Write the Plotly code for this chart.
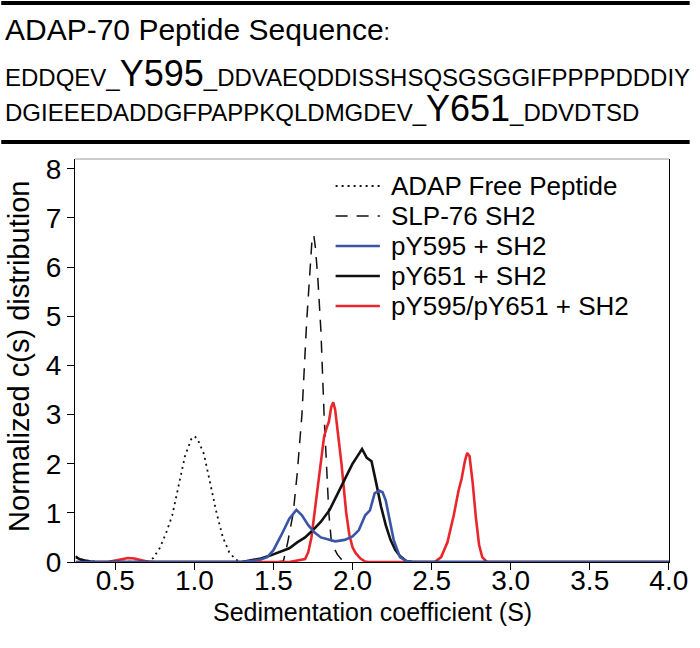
import plotly.graph_objects as go

# ---------------- data ----------------
free_x = [0.25, 0.27, 0.30, 0.33, 0.36, 0.40, 0.70, 0.74, 0.78, 0.82, 0.86, 0.90, 0.94,
          0.98, 1.00, 1.02, 1.06, 1.10, 1.14, 1.18, 1.22, 1.26, 1.30, 1.40]
free_y = [0.12, 0.07, 0.04, 0.03, 0.01, 0.00, 0.01, 0.08, 0.28, 0.58, 0.95, 1.55, 2.15,
          2.50, 2.56, 2.50, 2.20, 1.60, 1.00, 0.50, 0.20, 0.05, 0.00, 0.00]

slp_x = [1.52, 1.563, 1.59, 1.625, 1.65, 1.68, 1.71, 1.73, 1.745, 1.755, 1.765, 1.78,
         1.80, 1.82, 1.85, 1.865, 1.88, 1.905, 1.93, 1.95]
slp_y = [0.00, 0.02, 0.40, 1.00, 1.80, 3.00, 4.90, 6.00, 6.62, 6.65, 6.40, 5.80,
         4.70, 3.00, 1.00, 0.45, 0.30, 0.15, 0.05, 0.00]

py595_x = [0.25, 1.30, 1.38, 1.42, 1.46, 1.50, 1.55, 1.60, 1.645, 1.68, 1.72, 1.76, 1.80,
           1.85, 1.89, 1.95, 2.00, 2.04, 2.08, 2.11, 2.14, 2.17, 2.19, 2.21, 2.23, 2.26,
           2.30, 2.34, 2.38, 4.00]
py595_y = [0.00, 0.00, 0.03, 0.05, 0.10, 0.24, 0.55, 0.88, 1.06, 0.95, 0.75, 0.60, 0.50,
           0.45, 0.42, 0.45, 0.52, 0.65, 0.95, 1.05, 1.40, 1.45, 1.42, 1.25, 0.90, 0.45,
           0.10, 0.02, 0.00, 0.00]

py651_x = [0.25, 0.28, 0.32, 0.36, 1.30, 1.36, 1.42, 1.47, 1.53, 1.57, 1.60, 1.65, 1.70,
           1.75, 1.80, 1.855, 1.90, 1.96, 2.00, 2.03, 2.06, 2.09, 2.12, 2.15, 2.18, 2.21,
           2.24, 2.27, 2.30, 2.34, 2.38, 4.00]
py651_y = [0.10, 0.05, 0.02, 0.00, 0.00, 0.03, 0.07, 0.12, 0.20, 0.25, 0.28, 0.40, 0.50,
           0.65, 0.82, 1.06, 1.35, 1.74, 2.00, 2.15, 2.30, 2.12, 2.05, 1.60, 1.13, 0.75,
           0.45, 0.25, 0.12, 0.02, 0.00, 0.00]

both_x = [0.25, 0.45, 0.50, 0.55, 0.58, 0.62, 0.66, 0.70, 0.75, 1.60, 1.70, 1.72, 1.74,
          1.76, 1.78, 1.80, 1.82, 1.835, 1.85, 1.865, 1.878, 1.89, 1.90, 1.915, 1.93,
          1.945, 1.96, 1.98, 2.00, 2.02, 2.05, 2.08, 2.10, 2.52, 2.56, 2.60, 2.64, 2.67,
          2.69, 2.71, 2.725, 2.74, 2.76, 2.78, 2.80, 2.82, 2.85, 4.00]
both_y = [0.00, 0.00, 0.03, 0.07, 0.08, 0.07, 0.04, 0.01, 0.00, 0.00, 0.06, 0.20, 0.50,
          1.00, 1.50, 2.00, 2.55, 2.72, 2.85, 3.15, 3.25, 3.10, 2.85, 2.45, 2.00,
          1.50, 1.00, 0.55, 0.30, 0.18, 0.07, 0.01, 0.00, 0.00, 0.10, 0.40, 0.95, 1.45,
          1.70, 2.05, 2.22, 2.15, 1.60, 0.90, 0.35, 0.10, 0.00, 0.00]

series_names = ["ADAP Free Peptide", "SLP-76 SH2", "pY595 + SH2", "pY651 + SH2",
                "pY595/pY651 + SH2"]
x_ticks = [0.5, 1.0, 1.5, 2.0, 2.5, 3.0, 3.5, 4.0]
y_ticks = [0, 1, 2, 3, 4, 5, 6, 7, 8]

# ---------------- layout geometry ----------------
W, H = 700, 648
L, R, T, B = 75, 21, 159, 86
PW, PH = W - L - R, H - T - B
FONT = "Liberation Sans, Arial, Helvetica, sans-serif"

def px_x(px):
    return (px - L) / PW

def px_y(py):
    return (H - B - py) / PH

BLUE = "#3b55a5"
RED = "#e8262b"
BLACK = "#111111"

styles = [
    dict(color=BLACK, width=1.8, dash="2px,4px"),
    dict(color=BLACK, width=1.5, dash="12px,9px"),
    dict(color=BLUE, width=2.6, dash="solid"),
    dict(color=BLACK, width=2.6, dash="solid"),
    dict(color=RED, width=2.6, dash="solid"),
]

data = [(free_x, free_y), (slp_x, slp_y), (py595_x, py595_y), (py651_x, py651_y),
        (both_x, both_y)]
order = [0, 1, 4, 3, 2]

fig = go.Figure()
for i in order:
    xs, ys = data[i]
    fig.add_trace(go.Scatter(x=xs, y=ys, mode="lines", name=series_names[i],
                             line=styles[i], showlegend=False))

shapes = []
annotations = []

# legend drawn in the upper right of the plot
leg_y = [186, 216, 246, 276, 306]
for i, yy in enumerate(leg_y):
    shapes.append(dict(type="line", xref="paper", yref="paper",
                       x0=px_x(340), x1=px_x(385), y0=px_y(yy), y1=px_y(yy),
                       line=styles[i]))
    annotations.append(dict(xref="paper", yref="paper", x=px_x(395), y=px_y(yy),
                            xanchor="left", yanchor="middle", showarrow=False,
                            borderpad=0,
                            text=series_names[i], font=dict(size=26, color="black")))

# separators and top border
shapes.append(dict(type="line", xref="paper", yref="paper", x0=px_x(0), x1=px_x(700),
                   y0=px_y(3), y1=px_y(3), line=dict(color="black", width=4)))
shapes.append(dict(type="line", xref="paper", yref="paper", x0=px_x(0), x1=px_x(700),
                   y0=px_y(142), y1=px_y(142), line=dict(color="black", width=4)))
shapes.append(dict(type="line", xref="paper", yref="paper", x0=0, x1=1, y0=1, y1=1,
                   line=dict(color="#9a9a9a", width=1.2)))

# header text
annotations.append(dict(xref="paper", yref="paper", x=px_x(2), y=px_y(29),
                        xanchor="left", yanchor="middle", showarrow=False,
                        text="ADAP-70 Peptide Sequence<span style='font-size:23px'>:</span>",
                        font=dict(size=30, color="black")))
annotations.append(dict(xref="paper", yref="paper", x=px_x(2), y=px_y(74),
                        xanchor="left", yanchor="middle", showarrow=False,
                        text="EDDQEV_<span style='font-size:36px'>Y595</span>_DDVAEQDDISSHSQSGSGGIFPPPPDDDIY",
                        font=dict(size=24, color="black")))
annotations.append(dict(xref="paper", yref="paper", x=px_x(2), y=px_y(109),
                        xanchor="left", yanchor="middle", showarrow=False,
                        text="DGIEEEDADDGFPAPPKQLDMGDEV_<span style='font-size:36px'>Y651</span>_DDVDTSD",
                        font=dict(size=24, color="black")))

# axis titles
annotations.append(dict(xref="paper", yref="paper", x=px_x(18), y=px_y(356),
                        xanchor="center", yanchor="middle", showarrow=False, textangle=-90,
                        text="Normalized c(s) distribution", font=dict(size=29, color="black")))
annotations.append(dict(xref="paper", yref="paper", x=px_x(377), y=px_y(612),
                        xanchor="center", yanchor="middle", showarrow=False,
                        text="Sedimentation coefficient (S)", font=dict(size=25, color="black")))

fig.update_layout(
    width=W, height=H,
    margin=dict(l=L, r=R, t=T, b=B, pad=0),
    paper_bgcolor="white", plot_bgcolor="white",
    font=dict(family=FONT, color="black"),
    shapes=shapes, annotations=annotations,
    showlegend=False,
)
fig.update_xaxes(range=[0.245, 4.001], tickvals=x_ticks, ticktext=[f"{v:.1f}" for v in x_ticks],
                 ticks="outside", ticklen=7, tickwidth=1, tickcolor="black",
                 showline=True, linecolor="black", linewidth=1, mirror=False,
                 showgrid=False, zeroline=False, tickfont=dict(size=28),
                 ticklabelstandoff=-14)
fig.update_yaxes(range=[0, 8.2], tickvals=y_ticks,
                 ticks="outside", ticklen=7, tickwidth=1, tickcolor="black",
                 showline=True, linecolor="black", linewidth=1, mirror=True,
                 showgrid=False, zeroline=False, tickfont=dict(size=28))

fig.write_html("out.html", config={"displayModeBar": False},
               post_script="document.body.style.margin='0';document.body.style.overflow='hidden';")
